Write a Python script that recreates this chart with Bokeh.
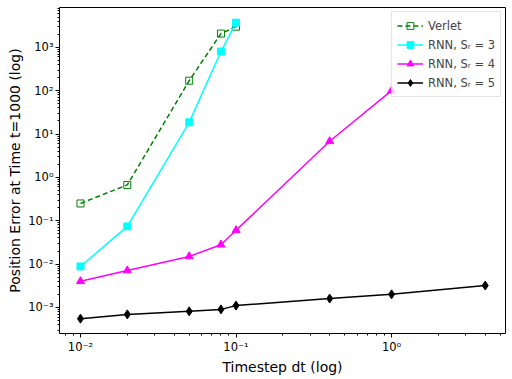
from bokeh.plotting import figure
from bokeh.models import FixedTicker, Legend, LegendItem, Range1d
from bokeh.embed import file_html
from bokeh.resources import INLINE

# Data
dt_verlet = [0.01, 0.02, 0.05, 0.08, 0.1]
err_verlet = [0.25, 0.67, 170, 2080, 3000]

dt_rnn3 = [0.01, 0.02, 0.05, 0.08, 0.1]
err_rnn3 = [0.0088, 0.074, 18.6, 800, 3700]

dt_rnn4 = [0.01, 0.02, 0.05, 0.08, 0.1, 0.4, 1.0]
err_rnn4 = [0.004, 0.0071, 0.015, 0.028, 0.06, 6.8, 100]

dt_rnn5 = [0.01, 0.02, 0.05, 0.08, 0.1, 0.4, 1.0, 4.0]
err_rnn5 = [0.00055, 0.00069, 0.00081, 0.0009, 0.0011, 0.0016, 0.002, 0.0032]

labels = ["Verlet", "RNN, Sᵣ = 3", "RNN, Sᵣ = 4", "RNN, Sᵣ = 5"]

x_major = [1e-2, 1e-1, 1e0]
x_major_labels = ["10⁻²", "10⁻¹", "10⁰"]
y_major = [1e-3, 1e-2, 1e-1, 1e0, 1e1, 1e2, 1e3]
y_major_labels = ["10⁻³", "10⁻²", "10⁻¹", "10⁰", "10¹", "10²", "10³"]

p = figure(frame_width=446, frame_height=326, x_axis_type="log", y_axis_type="log",
           output_backend="svg", toolbar_location=None,
           x_range=Range1d(0.00733, 5.4), y_range=Range1d(2.5e-4, 8300),
           min_border_top=7, min_border_right=2, min_border_left=59,
           min_border_bottom=0)
p.grid.visible = False
p.outline_line_color = "black"
p.outline_line_width = 1

def minors(lo, hi):
    out = []
    for e in range(lo, hi):
        for m in range(2, 10):
            out.append(m * 10.0 ** e)
    return out

p.xaxis.ticker = FixedTicker(ticks=x_major, minor_ticks=minors(-3, 1))
p.yaxis.ticker = FixedTicker(ticks=y_major, minor_ticks=minors(-4, 4))
p.xaxis.major_label_overrides = {v: s for v, s in zip(x_major, x_major_labels)}
p.yaxis.major_label_overrides = {v: s for v, s in zip(y_major, y_major_labels)}

for ax in (p.xaxis, p.yaxis):
    ax.major_label_text_font = "DejaVu Sans"
    ax.major_label_text_font_size = "11.5px"
    ax.major_label_text_color = "black"
    ax.major_label_standoff = 2
    ax.axis_label_text_font = "DejaVu Sans"
    ax.axis_label_text_font_size = "14px"
    ax.axis_label_text_font_style = "normal"
    ax.axis_label_text_color = "black"
    ax.axis_label_standoff = 2
    ax.major_tick_out = 4
    ax.major_tick_in = 0
    ax.minor_tick_out = 2
    ax.minor_tick_in = 0
    ax.axis_line_color = None
    ax.major_tick_line_color = "black"
    ax.minor_tick_line_color = "black"

p.xaxis.axis_label = "Timestep dt (log)"
p.yaxis.axis_label = "Position Error at Time t=1000 (log)"

r1l = p.line(dt_verlet, err_verlet, line_color="green", line_width=1.5, line_dash="5 3")
r1m = p.scatter(dt_verlet, err_verlet, marker="square", size=7, fill_color=None,
                line_color="green", line_width=1)
r2l = p.line(dt_rnn3, err_rnn3, line_color="cyan", line_width=1.5)
r2m = p.scatter(dt_rnn3, err_rnn3, marker="square", size=7, fill_color="cyan", line_color="cyan")
r3l = p.line(dt_rnn4, err_rnn4, line_color="magenta", line_width=1.5)
r3m = p.scatter(dt_rnn4, err_rnn4, marker="triangle", size=8, fill_color="magenta", line_color="magenta")
r4l = p.line(dt_rnn5, err_rnn5, line_color="black", line_width=1.5)
r4m = p.scatter(dt_rnn5, err_rnn5, marker="diamond", size=9, fill_color="black", line_color="black")

legend = Legend(items=[
    LegendItem(label=labels[0], renderers=[r1l, r1m]),
    LegendItem(label=labels[1], renderers=[r2l, r2m]),
    LegendItem(label=labels[2], renderers=[r3l, r3m]),
    LegendItem(label=labels[3], renderers=[r4l, r4m]),
], location="top_right")
legend.label_text_font = "DejaVu Sans"
legend.label_text_font_size = "11.5px"
legend.glyph_width = 26
legend.glyph_height = 17
legend.label_height = 17
legend.spacing = 2
legend.padding = 5
legend.margin = 4
legend.border_line_color = "#cccccc"
legend.border_line_width = 1
legend.background_fill_alpha = 0.8
p.add_layout(legend)

open("out.html", "w").write(file_html(p, INLINE))
